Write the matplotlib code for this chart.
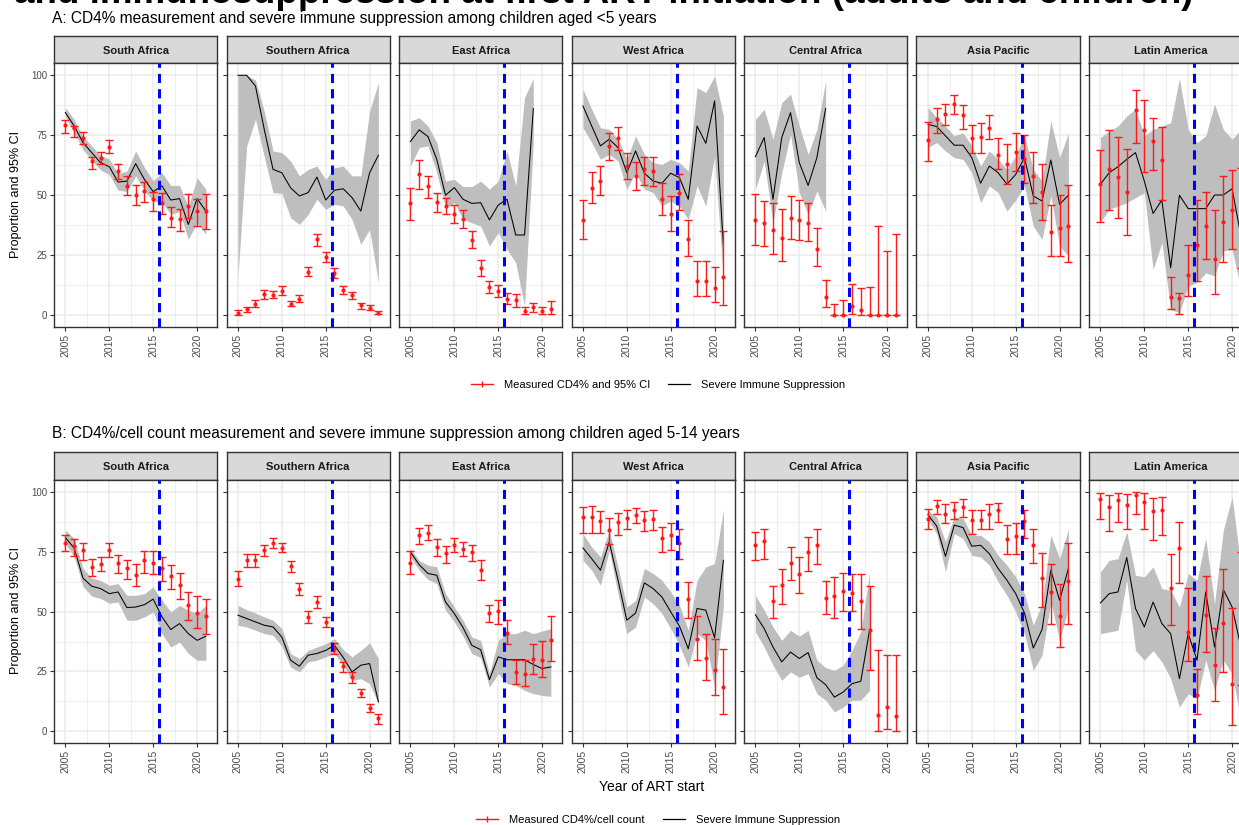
import matplotlib.pyplot as plt
from matplotlib.lines import Line2D

W, H = 1239, 825

years = list(range(2005, 2022))
regions = ["South Africa", "Southern Africa", "East Africa", "West Africa",
           "Central Africa", "Asia Pacific", "Latin America"]
policy_year = 2015.7

# ---- A: children aged <5 ----
a_sis = {
    "South Africa": [84.4, 78.8, 71.9, 67.7, 63.5, 61.8, 55.4, 55.8, 63.1, 56.5, 51.4, 53.8, 47.9, 48.5, 37.7, 48.5, 43.3],
    "Southern Africa": [100, 100, 95.5, 77.4, 60.7, 59.3, 53.0, 49.6, 51.0, 57.5, 47.9, 52.0, 52.6, 48.9, 43.3, 59.3, 66.6],
    "East Africa": [72.3, 77.2, 74.4, 64.9, 49.9, 53.1, 48.2, 46.5, 46.8, 39.6, 45.8, 48.2, 33.3, 33.3, 86.1],
    "West Africa": [87.2, 78.8, 70.5, 73.3, 69.8, 59.3, 68.4, 59.1, 55.8, 54.9, 59.1, 57.2, 48.2, 78.8, 71.6, 89.3, 29.0],
    "Central Africa": [66.0, 74.0, 48.2, 74.0, 84.4, 63.5, 54.0, 65.6, 86.1],
    "Asia Pacific": [79.5, 78.6, 74.7, 70.8, 70.8, 65.6, 54.9, 62.1, 59.3, 54.5, 58.6, 65.6, 49.6, 47.5, 64.6, 46.1, 49.9],
    "Latin America": [54.5, 59.3, 61.8, 64.9, 67.7, 55.8, 42.3, 47.9, 19.6, 49.9, 44.3, 44.3, 44.3, 50.0, 50.0, 52.6, 33.0],
}
a_sis_lo = {
    "South Africa": [82.7, 76.0, 69.0, 64.5, 60.5, 58.5, 52.0, 51.5, 58.0, 52.0, 47.5, 46.8, 42.0, 43.0, 31.5, 38.4, 33.6],
    "Southern Africa": [15.5, 70.5, 81.6, 66.0, 51.0, 50.7, 40.5, 37.7, 41.9, 48.2, 44.0, 46.1, 45.4, 39.8, 29.4, 35.6, 13.4],
    "East Africa": [62.1, 69.8, 70.5, 59.3, 44.7, 46.8, 39.8, 38.4, 37.0, 28.7, 34.3, 27.3, 21.7, 3.6, 71.9],
    "West Africa": [78.1, 71.9, 64.9, 67.0, 64.2, 52.4, 59.3, 52.4, 51.0, 45.4, 47.5, 45.4, 39.8, 53.8, 45.4, 66.3, 14.8],
    "Central Africa": [52.4, 64.2, 38.4, 59.3, 75.3, 51.0, 41.9, 51.7, 43.3],
    "Asia Pacific": [69.8, 71.9, 68.4, 65.6, 64.9, 59.3, 46.8, 53.8, 51.0, 43.3, 47.9, 53.8, 37.0, 31.5, 49.6, 28.7, 24.5],
    "Latin America": [38.7, 44.0, 45.4, 46.8, 48.9, 51.0, 18.9, 30.1, 2.2, 0.8, 12.0, 13.4, 17.5, 16.2, 26.6, 27.3, 10.6],
}
a_sis_hi = {
    "South Africa": [86.5, 81.5, 74.5, 70.5, 66.5, 65.0, 59.0, 60.0, 68.4, 61.5, 56.0, 59.3, 54.0, 54.0, 45.0, 57.2, 52.4],
    "Southern Africa": [100, 100, 98.0, 85.0, 68.4, 67.7, 64.2, 58.0, 60.7, 62.1, 56.5, 61.4, 62.1, 58.0, 58.0, 85.0, 96.9],
    "East Africa": [80.9, 82.3, 78.8, 71.9, 55.8, 56.5, 53.5, 53.5, 55.8, 52.4, 55.8, 68.4, 53.8, 90.7, 98.6],
    "West Africa": [94.2, 85.8, 78.1, 77.4, 73.3, 64.9, 74.7, 67.0, 63.5, 62.8, 64.9, 63.5, 60.0, 94.8, 92.8, 99.7, 83.0],
    "Central Africa": [81.6, 85.8, 73.3, 88.6, 92.1, 78.8, 67.0, 77.4, 97.6],
    "Asia Pacific": [86.5, 82.3, 78.8, 74.7, 76.0, 70.5, 62.1, 68.4, 64.9, 60.7, 66.3, 74.7, 60.7, 55.8, 80.9, 65.6, 75.8],
    "Latin America": [74.0, 76.7, 78.8, 83.0, 85.8, 74.7, 77.4, 78.8, 80.2, 98.6, 77.4, 71.9, 74.7, 87.9, 77.4, 73.3, 77.4],
}
a_cd4 = {
    "South Africa": [79.1, 77.9, 74.0, 64.2, 65.6, 70.2, 60.0, 53.8, 50.0, 51.7, 48.2, 46.8, 40.5, 39.8, 45.4, 43.3, 43.3],
    "Southern Africa": [0.8, 2.2, 4.6, 8.5, 8.4, 9.9, 4.6, 6.7, 17.8, 31.5, 24.1, 17.3, 10.3, 8.2, 3.9, 2.9, 0.8],
    "East Africa": [46.5, 58.9, 53.8, 47.1, 45.4, 41.9, 39.8, 31.2, 19.4, 11.6, 9.9, 6.7, 6.1, 1.5, 3.2, 1.5, 2.2],
    "West Africa": [39.6, 53.1, 55.8, 70.5, 74.0, 62.1, 57.9, 60.7, 60.0, 48.5, 42.2, 51.0, 31.8, 14.1, 14.1, 11.3, 15.7],
    "Central Africa": [39.6, 38.2, 35.2, 32.2, 40.5, 39.6, 38.4, 27.6, 7.4, 0, 0, 3.6, 1.9, 0, 0, 0, 0],
    "Asia Pacific": [73.0, 81.9, 83.7, 87.9, 83.3, 74.0, 74.4, 78.1, 66.6, 62.8, 68.0, 64.9, 57.9, 51.3, 34.5, 36.4, 37.0],
    "Latin America": [54.5, 60.7, 57.5, 51.4, 85.4, 77.2, 72.6, 64.6, 7.4, 7.1, 16.4, 29.0, 37.0, 23.4, 38.7, 43.6, 40.0],
}
a_cd4_lo = {
    "South Africa": [76.0, 74.2, 71.2, 61.0, 62.8, 67.4, 56.5, 50.0, 45.8, 47.0, 43.3, 42.2, 36.8, 35.0, 40.5, 37.0, 35.9],
    "Southern Africa": [0, 1.1, 3.3, 6.7, 7.0, 8.1, 3.6, 5.3, 16.2, 28.7, 22.0, 15.2, 8.8, 6.7, 2.5, 1.8, 0.1],
    "East Africa": [39.6, 52.6, 48.9, 42.9, 41.9, 38.2, 36.4, 28.0, 16.2, 8.9, 7.4, 4.3, 3.3, 0.1, 1.1, 0.1, 0.4],
    "West Africa": [31.8, 46.8, 50.0, 64.5, 68.8, 56.8, 52.1, 54.0, 53.8, 41.8, 35.0, 43.6, 24.5, 7.8, 7.8, 5.3, 4.2],
    "Central Africa": [29.1, 28.7, 25.5, 22.4, 31.8, 31.2, 30.6, 20.3, 3.2, 0, 0, 0.4, 0, 0, 0, 0, 0],
    "Asia Pacific": [64.1, 76.0, 79.2, 83.7, 77.7, 67.4, 67.4, 73.3, 60.7, 54.5, 60.0, 55.2, 46.8, 39.6, 24.5, 24.5, 22.0],
    "Latin America": [38.9, 43.7, 40.5, 33.1, 71.9, 59.7, 60.3, 47.9, 2.6, 0.4, 7.8, 13.9, 23.4, 8.8, 22.0, 27.6, 19.6],
}
a_cd4_hi = {
    "South Africa": [81.3, 78.8, 76.3, 66.0, 68.0, 72.8, 62.8, 58.0, 54.0, 55.4, 51.3, 50.7, 45.1, 44.0, 50.4, 48.2, 50.6],
    "Southern Africa": [1.8, 3.3, 6.1, 10.3, 9.9, 12.0, 5.7, 8.1, 19.9, 33.8, 26.2, 19.4, 12.0, 9.6, 5.0, 3.9, 1.5],
    "East Africa": [53.1, 64.6, 57.9, 51.0, 48.9, 45.7, 43.6, 35.0, 22.8, 14.1, 12.4, 9.2, 8.8, 3.2, 5.0, 3.3, 5.7],
    "West Africa": [47.9, 59.7, 62.1, 76.0, 78.6, 67.7, 63.9, 66.0, 66.0, 54.9, 49.6, 58.6, 39.6, 22.4, 22.4, 20.1, 34.8],
    "Central Africa": [50.6, 47.4, 46.8, 44.0, 49.6, 47.9, 46.8, 36.4, 14.5, 4.6, 6.3, 13.0, 11.0, 11.6, 37.0, 26.6, 33.8],
    "Asia Pacific": [80.6, 86.2, 87.9, 91.6, 87.5, 79.2, 79.9, 83.3, 74.0, 71.4, 76.0, 74.9, 68.1, 63.1, 45.8, 50.0, 54.2],
    "Latin America": [68.8, 77.2, 74.4, 69.4, 93.7, 89.6, 82.0, 78.6, 15.9, 9.2, 29.0, 47.9, 51.4, 43.7, 57.9, 60.4, 61.4],
}

# ---- B: children aged 5-14 ----
b_sis = {
    "South Africa": [80.9, 76.5, 64.0, 60.6, 59.6, 57.5, 58.2, 51.7, 51.9, 52.9, 55.2, 47.8, 42.5, 45.0, 40.8, 38.0, 39.7],
    "Southern Africa": [48.5, 47.1, 45.7, 44.3, 43.6, 39.4, 29.7, 27.2, 31.8, 32.5, 33.8, 35.9, 30.8, 24.8, 27.6, 28.3, 12.3],
    "East Africa": [74.9, 69.6, 65.9, 65.2, 54.0, 49.2, 43.3, 35.9, 34.1, 21.6, 31.1, 29.9, 29.9, 29.9, 27.9, 26.2, 26.9],
    "West Africa": [76.6, 72.1, 67.3, 79.1, 63.1, 46.4, 49.4, 62.0, 59.6, 56.1, 49.9, 43.9, 34.5, 51.3, 50.6, 39.0, 71.4],
    "Central Africa": [48.7, 42.9, 35.2, 29.0, 33.1, 30.4, 32.9, 22.4, 19.5, 14.3, 16.4, 19.9, 20.9, 42.2],
    "Asia Pacific": [90.5, 85.7, 73.1, 86.1, 85.1, 77.3, 77.7, 74.2, 68.0, 63.1, 57.5, 49.4, 34.8, 42.5, 67.3, 54.7, 68.0],
    "Latin America": [53.6, 57.5, 58.2, 72.6, 51.3, 43.6, 54.0, 45.0, 40.8, 22.0, 40.8, 29.7, 58.2, 35.2, 59.2, 51.9, 35.2],
}
b_sis_lo = {
    "South Africa": [78.4, 73.0, 60.5, 56.5, 55.5, 53.5, 54.0, 46.4, 46.4, 47.8, 49.9, 40.8, 35.2, 37.3, 32.5, 29.7, 29.7],
    "Southern Africa": [44.3, 43.6, 42.2, 40.8, 40.1, 35.5, 26.9, 24.8, 29.0, 29.7, 31.1, 32.5, 27.6, 21.3, 22.0, 19.9, 11.6],
    "East Africa": [72.8, 67.3, 63.4, 61.7, 50.6, 45.7, 39.7, 32.5, 30.8, 18.5, 24.1, 19.9, 19.2, 17.1, 15.7, 15.0, 14.6],
    "West Africa": [71.4, 67.3, 61.0, 75.6, 57.5, 40.8, 43.6, 56.1, 53.3, 49.2, 42.9, 35.9, 26.9, 40.8, 38.0, 18.5, 51.9],
    "Central Africa": [41.5, 35.2, 27.6, 21.3, 24.8, 22.6, 24.1, 15.7, 13.0, 8.1, 10.2, 13.0, 13.0, 17.1],
    "Asia Pacific": [88.2, 82.6, 66.6, 82.6, 80.5, 73.5, 72.8, 69.4, 62.4, 56.8, 49.9, 40.8, 25.5, 31.8, 54.0, 38.0, 51.3],
    "Latin America": [40.8, 41.5, 42.2, 63.1, 33.8, 29.7, 33.8, 29.0, 22.0, 10.2, 15.7, 13.6, 29.7, 17.1, 29.7, 24.1, 4.6],
}
b_sis_hi = {
    "South Africa": [84.0, 80.5, 68.0, 64.0, 63.0, 61.0, 61.7, 56.8, 56.8, 57.5, 60.3, 54.7, 49.9, 52.6, 50.6, 49.2, 52.6],
    "Southern Africa": [52.6, 50.8, 49.4, 47.8, 46.4, 42.9, 32.5, 30.4, 33.8, 35.2, 36.6, 38.7, 34.1, 31.1, 33.8, 36.9, 30.4],
    "East Africa": [76.3, 71.4, 69.4, 68.7, 57.5, 51.9, 46.4, 39.4, 38.0, 24.1, 38.0, 40.8, 40.8, 42.2, 40.8, 41.9, 42.9],
    "West Africa": [82.6, 77.0, 72.8, 84.0, 68.7, 51.9, 54.7, 68.0, 65.9, 63.1, 58.2, 52.6, 42.2, 63.1, 68.7, 70.1, 92.6],
    "Central Africa": [56.8, 50.6, 43.6, 38.0, 42.2, 39.7, 42.2, 29.7, 26.6, 25.5, 27.6, 33.8, 41.5, 66.2],
    "Asia Pacific": [92.3, 89.6, 79.1, 89.6, 88.9, 81.9, 81.9, 79.1, 73.5, 69.4, 64.5, 57.5, 44.3, 53.3, 81.9, 72.1, 84.3],
    "Latin America": [66.6, 71.4, 72.1, 83.3, 65.2, 64.5, 68.7, 59.6, 58.9, 51.9, 65.9, 63.1, 80.5, 53.3, 84.0, 97.9, 68.7],
}
b_cd4 = {
    "South Africa": [78.7, 77.3, 75.6, 68.7, 69.8, 75.6, 70.1, 68.0, 65.2, 71.4, 70.5, 68.0, 64.9, 61.0, 52.6, 49.6, 48.1],
    "Southern Africa": [63.8, 71.4, 71.4, 75.6, 78.7, 76.7, 68.9, 59.3, 47.8, 54.0, 45.7, 34.5, 27.2, 22.7, 16.0, 9.9, 5.6],
    "East Africa": [70.5, 81.9, 83.0, 77.0, 74.5, 77.7, 76.3, 74.7, 67.3, 49.4, 50.1, 41.2, 24.8, 24.1, 30.4, 29.9, 38.3],
    "West Africa": [89.3, 89.3, 87.9, 84.0, 87.5, 88.9, 90.5, 88.4, 88.6, 80.9, 81.9, 78.7, 55.4, 38.7, 30.6, 25.8, 18.5],
    "Central Africa": [77.7, 79.5, 54.3, 61.3, 70.5, 65.5, 74.7, 77.7, 55.8, 56.5, 58.5, 57.9, 54.3, 42.2, 7.0, 10.2, 6.4],
    "Asia Pacific": [88.6, 94.0, 90.9, 92.6, 93.5, 88.4, 88.2, 90.7, 92.3, 80.5, 81.5, 87.9, 77.7, 64.2, 58.2, 48.1, 62.7],
    "Latin America": [96.9, 93.7, 96.5, 94.4, 98.6, 95.8, 92.1, 92.3, 60.0, 76.7, 41.5, 15.0, 48.5, 27.9, 45.4, 19.9, 47.0],
}
b_cd4_lo = {
    "South Africa": [75.2, 73.1, 71.4, 64.8, 67.0, 72.8, 66.3, 63.8, 60.7, 66.2, 65.6, 62.8, 59.6, 55.4, 46.7, 43.3, 40.8],
    "Southern Africa": [60.6, 68.7, 68.7, 73.1, 76.7, 74.7, 66.6, 56.8, 45.4, 51.7, 43.6, 32.5, 24.8, 20.3, 14.3, 8.1, 3.2],
    "East Africa": [65.9, 78.1, 79.8, 73.1, 70.5, 74.7, 73.1, 71.0, 63.1, 45.7, 45.0, 36.6, 19.9, 18.9, 24.1, 22.7, 29.4],
    "West Africa": [82.9, 82.9, 82.9, 78.4, 81.9, 84.7, 87.0, 83.7, 84.0, 74.7, 75.6, 72.1, 47.5, 29.9, 21.6, 15.3, 7.4],
    "Central Africa": [71.4, 72.1, 47.5, 53.3, 63.1, 57.9, 66.9, 69.8, 49.2, 47.5, 50.1, 50.1, 42.9, 25.8, 0.1, 1.1, 0.1],
    "Asia Pacific": [84.4, 90.9, 87.0, 88.6, 89.6, 82.6, 84.4, 84.7, 87.5, 74.2, 74.2, 80.9, 70.1, 52.1, 45.0, 35.2, 45.0],
    "Latin America": [88.6, 83.6, 87.5, 84.4, 90.9, 84.7, 79.8, 81.9, 44.6, 62.0, 29.4, 7.4, 33.1, 12.7, 24.8, 2.5, 19.2],
}
b_cd4_hi = {
    "South Africa": [81.9, 80.4, 78.7, 72.1, 72.8, 78.7, 73.5, 71.4, 69.8, 75.2, 75.2, 72.6, 69.4, 66.2, 58.2, 56.4, 55.2],
    "Southern Africa": [66.9, 74.0, 74.0, 77.7, 80.8, 78.7, 71.0, 62.0, 50.1, 56.4, 47.8, 37.0, 29.0, 24.8, 17.8, 11.3, 7.1],
    "East Africa": [75.2, 85.0, 86.1, 80.5, 77.3, 80.8, 79.1, 77.7, 71.4, 52.9, 54.7, 46.4, 29.7, 29.7, 36.6, 37.7, 48.1],
    "West Africa": [93.5, 94.0, 92.1, 88.9, 91.2, 92.3, 93.3, 92.1, 92.3, 85.4, 87.0, 84.7, 62.4, 48.1, 40.8, 38.7, 34.5],
    "Central Africa": [83.3, 84.7, 60.6, 67.7, 77.0, 72.6, 81.2, 84.4, 62.7, 64.6, 66.3, 65.5, 65.6, 60.6, 33.8, 32.0, 32.0],
    "Asia Pacific": [93.0, 96.5, 94.8, 95.8, 97.2, 92.6, 92.3, 94.8, 95.4, 86.1, 87.0, 92.6, 84.7, 74.5, 69.8, 61.4, 78.7],
    "Latin America": [99.6, 98.6, 99.6, 99.0, 100, 99.6, 97.6, 97.9, 74.0, 87.5, 60.0, 26.2, 64.8, 43.2, 67.7, 51.3, 74.9],
}

FONT = ["Liberation Sans", "DejaVu Sans"]
plt.rcParams["font.family"] = FONT

fig = plt.figure(figsize=(W / 100, H / 100), dpi=100)


def px_axes(left, top, width, height):
    return fig.add_axes([left / W, 1 - (top + height) / H, width / W, height / H])


def draw_row(strip_top, sis, sis_lo, sis_hi, cd4, cd4_lo, cd4_hi):
    strip_h, panel_h, panel_w = 27.6, 263.4, 163.3
    for i, reg in enumerate(regions):
        left = 54 + 172.5 * i
        # facet strip
        sax = px_axes(left, strip_top, panel_w, strip_h)
        sax.set_facecolor("#D9D9D9")
        sax.set_xticks([])
        sax.set_yticks([])
        for sp in sax.spines.values():
            sp.set_color("#333333")
            sp.set_linewidth(1.0)
        sax.text(0.5, 0.45, reg, transform=sax.transAxes, ha="center", va="center",
                 fontsize=8, fontweight="bold", color="#1A1A1A")

        ax = px_axes(left, strip_top + strip_h, panel_w, panel_h)
        n = len(sis[reg])
        ax.fill_between(years[:n], sis_lo[reg], sis_hi[reg], color="#BEBEBE", lw=0, zorder=1)
        ax.plot(years[:n], sis[reg], color="black", lw=0.75, zorder=2)
        err = [[c - l for c, l in zip(cd4[reg], cd4_lo[reg])],
               [h - c for c, h in zip(cd4[reg], cd4_hi[reg])]]
        ax.errorbar(years, cd4[reg], yerr=err, fmt="o", ms=2.0, color="#FF1A1A",
                    ecolor="#FF1A1A", elinewidth=1.0, capsize=3, capthick=1.0, zorder=3)
        ax.axvline(policy_year, color="#0000FF", lw=2.2, ls=(0, (3, 2)), zorder=4)

        ax.set_xlim(2003.7, 2022.3)
        ax.set_ylim(-5, 105)
        ax.set_xticks([2005, 2010, 2015, 2020])
        ax.set_xticks([2007.5, 2012.5, 2017.5], minor=True)
        ax.set_yticks([0, 25, 50, 75, 100])
        ax.set_yticks([12.5, 37.5, 62.5, 87.5], minor=True)
        ax.grid(which="major", color="#EBEBEB", lw=1.1)
        ax.grid(which="minor", color="#EBEBEB", lw=0.55)
        ax.set_axisbelow(True)
        ax.tick_params(which="minor", length=0)
        ax.tick_params(which="major", length=3, width=0.8, color="#333333",
                       labelcolor="#4D4D4D", pad=2)
        ax.tick_params(axis="x", labelsize=7.5, labelrotation=90)
        ax.tick_params(axis="y", labelsize=7)
        if i > 0:
            ax.tick_params(axis="y", labelleft=False)
        for sp in ax.spines.values():
            sp.set_color("#333333")
            sp.set_linewidth(1.0)


draw_row(35.7, a_sis, a_sis_lo, a_sis_hi, a_cd4, a_cd4_lo, a_cd4_hi)
draw_row(452.3, b_sis, b_sis_lo, b_sis_hi, b_cd4, b_cd4_lo, b_cd4_hi)

# titles
fig.text(1193 / W, 1 - 3 / H, "and immunosuppression at first ART initiation (adults and children)",
         ha="right", va="baseline", fontsize=26.5, fontweight="bold")
fig.text(52 / W, 1 - 18 / H,
         "A: CD4% measurement and severe immune suppression among children aged <5 years",
         ha="left", va="center", fontsize=11.2)
fig.text(52 / W, 1 - 434 / H,
         "B: CD4%/cell count measurement and severe immune suppression among children aged 5-14 years",
         ha="left", va="center", fontsize=11.2)

for yc in (195, 611):
    fig.text(16 / W, 1 - yc / H, "Proportion and 95% CI", rotation=90,
             ha="center", va="center", fontsize=9)
fig.text(652 / W, 1 - 787 / H, "Year of ART start", ha="center", va="center", fontsize=10)

# legends
for yc, lab in ((385, "Measured CD4% and 95% CI"), (820, "Measured CD4%/cell count")):
    handles = [Line2D([], [], color="#FF1A1A", lw=1.0, marker="|", ms=4),
               Line2D([], [], color="black", lw=0.9)]
    fig.legend(handles, [lab, "Severe Immune Suppression"], loc="center",
               bbox_to_anchor=(658 / W, 1 - yc / H), ncol=2, frameon=False,
               fontsize=8, handlelength=2.0, columnspacing=1.6, handletextpad=1.0)

fig.savefig("out.png", dpi=100)
